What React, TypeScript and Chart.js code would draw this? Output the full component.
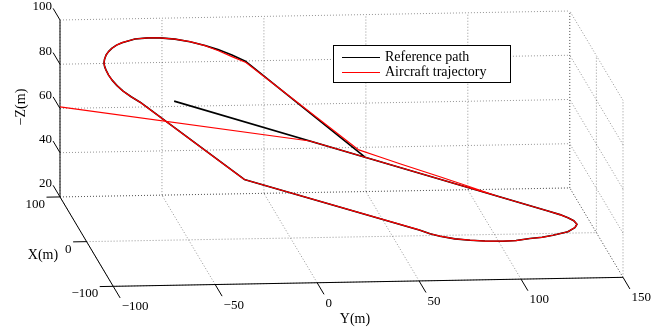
import React, { useEffect, useRef } from "react";
import { Chart, registerables } from "chart.js";

Chart.register(...registerables);

// ---- Axis limits and ticks ----
const X_LIMITS = [-100, 100];
const Y_LIMITS = [-100, 150];
const Z_LIMITS = [20, 100];
const X_TICKS = [-100, 0, 100];
const Y_TICKS = [-100, -50, 0, 50, 100, 150];
const Z_TICKS = [20, 40, 60, 80, 100];

// ---- Reference path (m) ----
const REF_X = [12.9, 6.6, 0.3, -0.3, -1.2, -2.6, -5.2, -9.0, -14.6, -21.7, -26.3, -30.5, -35.9, -39.8, -44.1, -47.1, -49.4, -50.7, -50.8, -49.9, -44.8, 3.5, 6.6, 9.9, 13.7, 17.7, 21.6, 25.8, 28.8, 32.1, 36.0, 40.2, 44.2, 48.4, 52.4, 56.2, 62.8, 67.2, 70.2, 72.7, 73.8, 73.9, 73.3, 71.5, 68.7, 6.6];
const REF_Y = [-55.4, 37.4, 126.3, 132.1, 135.9, 138.6, 139.8, 138.3, 134.1, 125.9, 119.9, 113.4, 105.9, 99.0, 89.6, 81.9, 74.2, 66.7, 61.8, 57.0, -28.5, -73.3, -77.3, -80.8, -83.3, -85.2, -86.4, -87.1, -87.4, -87.3, -86.5, -85.2, -83.5, -81.2, -78.5, -75.3, -68.1, -61.1, -54.9, -47.2, -39.7, -32.3, -26.0, -19.4, -12.9, 37.4];
const REF_Z = [80.2, 54.6, 30.1, 28.5, 27.2, 26.1, 25.0, 24.3, 23.6, 23.6, 23.7, 24.1, 24.4, 25.0, 26.1, 27.2, 28.4, 30.0, 31.2, 32.7, 56.0, 81.9, 83.8, 85.7, 87.5, 89.2, 90.7, 92.1, 93.1, 94.0, 95.0, 96.0, 96.7, 97.4, 97.9, 98.2, 98.4, 97.9, 97.2, 96.0, 94.5, 92.6, 90.8, 88.6, 86.1, 54.6];

// ---- Aircraft trajectory (m) ----
const AC_X = [100, 8.4, 0.3, -0.3, -1.2, -2.6, -5.2, -9.0, -14.6, -21.7, -26.3, -30.5, -35.9, -39.8, -44.1, -47.1, -49.4, -50.7, -50.8, -49.9, -44.8, 3.5, 6.6, 9.9, 13.7, 17.7, 21.6, 25.8, 28.8, 32.1, 36.0, 40.2, 44.2, 48.4, 52.4, 56.2, 62.8, 67.2, 70.2, 72.7, 73.8, 73.9, 72.3, 70.0, 67.8, 12.0, 10.3, 9.0, 6.5, 4.3, 1.9];
const AC_Y = [-100, 10.6, 126.3, 132.1, 135.9, 138.6, 139.8, 138.3, 134.1, 125.9, 119.9, 113.4, 105.9, 99.0, 89.6, 81.9, 74.2, 66.7, 61.8, 57.0, -28.5, -73.3, -77.3, -80.8, -83.3, -85.2, -86.4, -87.1, -87.4, -87.3, -86.5, -85.2, -83.5, -81.2, -78.5, -75.3, -68.1, -61.1, -54.9, -47.2, -39.7, -32.3, -26.2, -19.6, -13.0, 34.7, 45.2, 54.8, 74.1, 88.5, 102.9];
const AC_Z = [60.7, 62.0, 30.1, 28.5, 27.2, 26.1, 25.0, 24.3, 23.6, 23.6, 23.7, 24.1, 24.4, 25.0, 26.1, 27.2, 28.4, 30.0, 31.2, 32.7, 56.0, 81.9, 83.8, 85.7, 87.5, 89.2, 90.7, 92.1, 93.1, 94.0, 95.0, 96.0, 96.7, 97.4, 97.9, 98.2, 98.4, 97.9, 97.2, 96.0, 94.5, 92.6, 90.6, 88.2, 85.9, 57.0, 53.8, 50.9, 45.2, 40.9, 36.5];

const SERIES_NAMES = ["Reference path", "Aircraft trajectory"];
const AXIS_TITLES = { x: "X(m)", y: "Y(m)", z: "\u2212Z(m)" };

// ---- View (orthographic, MATLAB-like) ----
const VIEW_AZ = 84.15; // deg
const VIEW_EL = 9.91; // deg
const BOX_ASPECT = [1, 0.9814, 0.344];

// ---- Layout (pixels) ----
const W = 666;
const H = 330;
const BOX_LEFT = 60;
const BOX_RIGHT = 623;
const BOX_TOP = 11;
const TICK_LEN = 13.5;
const FONT = '"Liberation Serif", "Times New Roman", serif';
const GRID_COLOR = "rgba(0,0,0,0.42)";

function project(X: number, Y: number, Z: number) {
  const nx = ((X - X_LIMITS[0]) / (X_LIMITS[1] - X_LIMITS[0]) - 0.5) * BOX_ASPECT[0];
  const ny = ((Y - Y_LIMITS[0]) / (Y_LIMITS[1] - Y_LIMITS[0]) - 0.5) * BOX_ASPECT[1];
  const nz = ((Z - Z_LIMITS[0]) / (Z_LIMITS[1] - Z_LIMITS[0]) - 0.5) * BOX_ASPECT[2];
  const a = (VIEW_AZ * Math.PI) / 180;
  const e = (VIEW_EL * Math.PI) / 180;
  const px = -Math.cos(a) * nx + Math.sin(a) * ny;
  const py = Math.sin(e) * (Math.sin(a) * nx + Math.cos(a) * ny) + Math.cos(e) * nz;
  return { x: px, y: py };
}

function toPoints(xs: number[], ys: number[], zs: number[]) {
  return xs.map((x, i) => project(x, ys[i], zs[i]));
}

function fmt(v: number) {
  return v < 0 ? "\u2212" + Math.abs(v) : String(v);
}

function scaleBounds() {
  let pxMin = Infinity, pxMax = -Infinity, pyMax = -Infinity;
  for (const x of X_LIMITS) for (const y of Y_LIMITS) for (const z of Z_LIMITS) {
    const p = project(x, y, z);
    pxMin = Math.min(pxMin, p.x);
    pxMax = Math.max(pxMax, p.x);
    pyMax = Math.max(pyMax, p.y);
  }
  const s = (BOX_RIGHT - BOX_LEFT) / (pxMax - pxMin);
  const xMin = pxMin - BOX_LEFT / s;
  const yMax = pyMax + BOX_TOP / s;
  return { xMin, xMax: xMin + W / s, yMin: yMax - H / s, yMax };
}

const box3dPlugin = {
  id: "box3d",
  beforeDatasetsDraw(chart: any) {
    const ctx = chart.ctx as CanvasRenderingContext2D;
    const xs = chart.scales.x;
    const ys = chart.scales.y;
    const P = (X: number, Y: number, Z: number) => {
      const p = project(X, Y, Z);
      return [xs.getPixelForValue(p.x), ys.getPixelForValue(p.y)];
    };
    const line = (a: number[], b: number[]) => {
      ctx.beginPath();
      ctx.moveTo(a[0], a[1]);
      ctx.lineTo(b[0], b[1]);
      ctx.stroke();
    };
    const unit = (a: number[], b: number[]) => {
      const dx = b[0] - a[0], dy = b[1] - a[1];
      const l = Math.hypot(dx, dy);
      return [dx / l, dy / l];
    };
    const [x0, x1] = X_LIMITS;
    const [y0, y1] = Y_LIMITS;
    const [z0, z1] = Z_LIMITS;

    ctx.save();
    // grid (dotted)
    ctx.strokeStyle = GRID_COLOR;
    ctx.lineWidth = 1;
    ctx.setLineDash([1, 2]);
    Y_TICKS.forEach((y) => line(P(x1, y, z0), P(x1, y, z1)));
    Z_TICKS.forEach((z) => line(P(x1, y0, z), P(x1, y1, z)));
    X_TICKS.forEach((x) => line(P(x, y1, z0), P(x, y1, z1)));
    Z_TICKS.forEach((z) => line(P(x0, y1, z), P(x1, y1, z)));
    Y_TICKS.forEach((y) => line(P(x0, y, z0), P(x1, y, z0)));
    X_TICKS.forEach((x) => line(P(x, y0, z0), P(x, y1, z0)));
    ctx.setLineDash([]);

    // axes
    ctx.strokeStyle = "#000";
    ctx.lineWidth = 1;
    line(P(x1, y0, z0), P(x1, y0, z1)); // Z axis
    line(P(x1, y0, z0), P(x0, y0, z0)); // X axis
    line(P(x0, y0, z0), P(x0, y1, z0)); // Y axis

    ctx.fillStyle = "#000";
    ctx.font = "13px " + FONT;
    ctx.textBaseline = "middle";

    // Z ticks (point towards +X)
    const dz = unit(P(x0, y0, z0), P(x1, y0, z0));
    Z_TICKS.forEach((z) => {
      const b = P(x1, y0, z);
      const e = [b[0] + dz[0] * TICK_LEN, b[1] + dz[1] * TICK_LEN];
      line(b, e);
      ctx.textAlign = "right";
      ctx.fillText(fmt(z), e[0] - 1, e[1] - 1.5);
    });
    // X ticks (point towards -Y)
    const dx = unit(P(x0, y1, z0), P(x0, y0, z0));
    X_TICKS.forEach((x) => {
      const b = P(x, y0, z0);
      const e = [b[0] + dx[0] * TICK_LEN, b[1] + dx[1] * TICK_LEN];
      line(b, e);
      ctx.textAlign = "right";
      ctx.fillText(fmt(x), e[0] - 1.5, e[1] + 7.5);
    });
    // Y ticks (point towards -X)
    const dy = unit(P(x1, y0, z0), P(x0, y0, z0));
    Y_TICKS.forEach((y) => {
      const b = P(x0, y, z0);
      const e = [b[0] + dy[0] * TICK_LEN, b[1] + dy[1] * TICK_LEN];
      line(b, e);
      ctx.textAlign = "left";
      ctx.fillText(fmt(y), e[0] + 1.5, e[1] + 9);
    });

    // axis titles
    ctx.font = "14px " + FONT;
    ctx.textAlign = "center";
    ctx.fillText(AXIS_TITLES.x, 43, 255);
    ctx.fillText(AXIS_TITLES.y, 355, 319);
    ctx.save();
    ctx.translate(21, 107);
    ctx.rotate(-Math.PI / 2);
    ctx.fillText(AXIS_TITLES.z, 0, 0);
    ctx.restore();
    ctx.restore();
  },
  afterDatasetsDraw(chart: any) {
    const ctx = chart.ctx as CanvasRenderingContext2D;
    ctx.save();
    const bx = 333.5, by = 45.5, bw = 177, bh = 37;
    ctx.fillStyle = "#fff";
    ctx.fillRect(bx, by, bw, bh);
    ctx.strokeStyle = "#000";
    ctx.lineWidth = 1;
    ctx.strokeRect(bx, by, bw, bh);
    const colors = ["#000000", "#ff0000"];
    ctx.font = "14px " + FONT;
    ctx.textBaseline = "middle";
    ctx.textAlign = "left";
    SERIES_NAMES.forEach((name, i) => {
      const y = 57.5 + i * 15;
      ctx.strokeStyle = colors[i];
      ctx.beginPath();
      ctx.moveTo(342, y);
      ctx.lineTo(380, y);
      ctx.stroke();
      ctx.fillStyle = "#000";
      ctx.fillText(name, 385, y - 0.5);
    });
    ctx.restore();
  },
};

export default function App() {
  const ref = useRef<HTMLCanvasElement>(null);
  useEffect(() => {
    const canvas = ref.current;
    if (!canvas) return;
    const b = scaleBounds();
    const chart = new Chart(canvas, {
      type: "scatter",
      data: {
        datasets: [
          {
            label: SERIES_NAMES[0],
            data: toPoints(REF_X, REF_Y, REF_Z),
            showLine: true,
            borderColor: "#000000",
            borderWidth: 1.6,
            borderJoinStyle: "round",
            pointRadius: 0,
            tension: 0,
            order: 2,
          },
          {
            label: SERIES_NAMES[1],
            data: toPoints(AC_X, AC_Y, AC_Z),
            showLine: true,
            borderColor: "#ff0000",
            borderWidth: 1.2,
            borderJoinStyle: "round",
            pointRadius: 0,
            tension: 0,
            order: 1,
          },
        ],
      },
      options: {
        responsive: false,
        maintainAspectRatio: false,
        devicePixelRatio: 1,
        animation: false,
        events: [],
        layout: { padding: 0 },
        plugins: { legend: { display: false }, tooltip: { enabled: false } },
        scales: {
          x: { type: "linear", display: false, min: b.xMin, max: b.xMax },
          y: { type: "linear", display: false, min: b.yMin, max: b.yMax },
        },
      },
      plugins: [box3dPlugin],
    });
    return () => chart.destroy();
  }, []);
  return (
    <div style={{ position: "absolute", left: 0, top: 0, width: W, height: H, background: "#fff" }}>
      <canvas ref={ref} width={W} height={H} style={{ display: "block", width: W, height: H }} />
    </div>
  );
}
